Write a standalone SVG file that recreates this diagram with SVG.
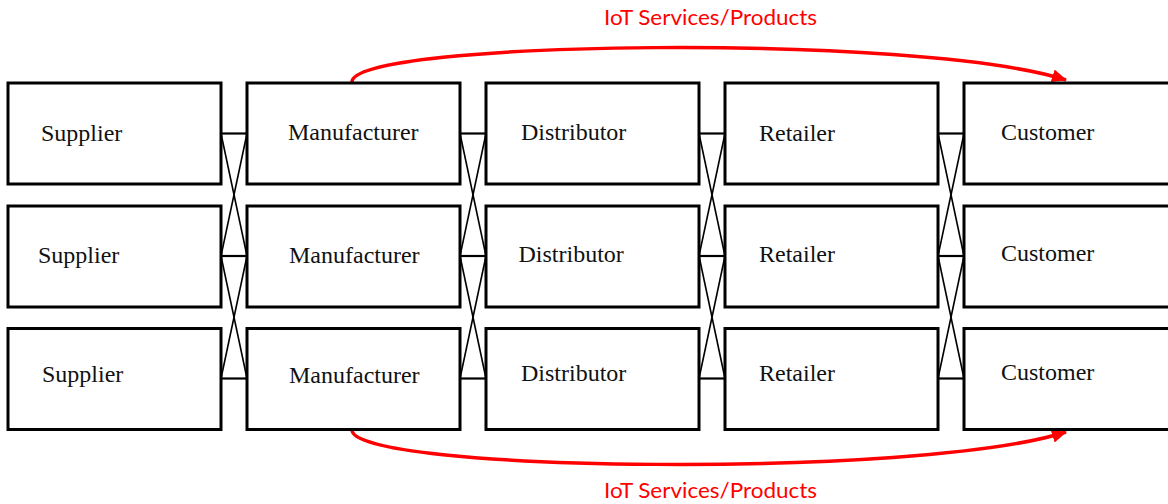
<svg xmlns="http://www.w3.org/2000/svg" width="1168" height="504" viewBox="0 0 1168 504">
  <style>
    .box { fill: #ffffff; stroke: #000000; stroke-width: 3; }
    .lbl { font-family: "Liberation Serif", "Times New Roman", serif; font-size: 24px; fill: #111111; }
    .link { stroke: #000000; stroke-width: 1.6; fill: none; }
    .hlink { stroke: #000000; stroke-width: 2.2; fill: none; }
    .flow { stroke: #ff0000; stroke-width: 3.5; fill: none; }
    .flowtxt { font-family: Lato, "Open Sans", "Liberation Sans", sans-serif; font-size: 21px; fill: #ff0000; }
  </style>
  <defs>
    <marker id="redhead" markerUnits="userSpaceOnUse" markerWidth="18" markerHeight="14" refX="14" refY="6.5" orient="auto">
      <path d="M0,0 L15,6.5 L0,13 Z" fill="#ff0000"/>
    </marker>
  </defs>
  <rect width="1168" height="504" fill="#ffffff"/>

  <!-- links between neighbouring columns -->
  <g id="connectors">
    <!-- Supplier to Manufacturer -->
    <line class="hlink" x1="221" y1="133.5" x2="247" y2="133.5"/>
    <line class="hlink" x1="221" y1="256" x2="247" y2="256"/>
    <line class="hlink" x1="221" y1="378.5" x2="247" y2="378.5"/>
    <line class="link" x1="221" y1="133.5" x2="247" y2="256"/>
    <line class="link" x1="247" y1="133.5" x2="221" y2="256"/>
    <line class="link" x1="221" y1="256" x2="247" y2="378.5"/>
    <line class="link" x1="247" y1="256" x2="221" y2="378.5"/>
    <!-- Manufacturer to Distributor -->
    <line class="hlink" x1="460" y1="133.5" x2="486" y2="133.5"/>
    <line class="hlink" x1="460" y1="256" x2="486" y2="256"/>
    <line class="hlink" x1="460" y1="378.5" x2="486" y2="378.5"/>
    <line class="link" x1="460" y1="133.5" x2="486" y2="256"/>
    <line class="link" x1="486" y1="133.5" x2="460" y2="256"/>
    <line class="link" x1="460" y1="256" x2="486" y2="378.5"/>
    <line class="link" x1="486" y1="256" x2="460" y2="378.5"/>
    <!-- Distributor to Retailer -->
    <line class="hlink" x1="699" y1="133.5" x2="725" y2="133.5"/>
    <line class="hlink" x1="699" y1="256" x2="725" y2="256"/>
    <line class="hlink" x1="699" y1="378.5" x2="725" y2="378.5"/>
    <line class="link" x1="699" y1="133.5" x2="725" y2="256"/>
    <line class="link" x1="725" y1="133.5" x2="699" y2="256"/>
    <line class="link" x1="699" y1="256" x2="725" y2="378.5"/>
    <line class="link" x1="725" y1="256" x2="699" y2="378.5"/>
    <!-- Retailer to Customer -->
    <line class="hlink" x1="938" y1="133.5" x2="964" y2="133.5"/>
    <line class="hlink" x1="938" y1="256" x2="964" y2="256"/>
    <line class="hlink" x1="938" y1="378.5" x2="964" y2="378.5"/>
    <line class="link" x1="938" y1="133.5" x2="964" y2="256"/>
    <line class="link" x1="964" y1="133.5" x2="938" y2="256"/>
    <line class="link" x1="938" y1="256" x2="964" y2="378.5"/>
    <line class="link" x1="964" y1="256" x2="938" y2="378.5"/>

    <!-- IoT flows from manufacturer straight to customer -->
    <path class="flow" d="M352,82 C352,40 920,33 1066,80" marker-end="url(#redhead)"/>
    <path class="flow" d="M352,430 C352,472 920,479 1066,432" marker-end="url(#redhead)"/>
  </g>

  <text class="flowtxt" x="604" y="25" textLength="213" lengthAdjust="spacingAndGlyphs">IoT Services/Products</text>
  <text class="flowtxt" x="604" y="498" textLength="213" lengthAdjust="spacingAndGlyphs">IoT Services/Products</text>

  <!-- Supplier column -->
  <g id="supplier-1"><rect class="box" x="8" y="83" width="213" height="101"/><text class="lbl" x="41" y="140.5">Supplier</text></g>
  <g id="supplier-2"><rect class="box" x="8" y="206" width="213" height="101"/><text class="lbl" x="38" y="262.5">Supplier</text></g>
  <g id="supplier-3"><rect class="box" x="8" y="328.5" width="213" height="101"/><text class="lbl" x="42" y="382">Supplier</text></g>

  <!-- Manufacturer column -->
  <g id="manufacturer-1"><rect class="box" x="247" y="83" width="213" height="101"/><text class="lbl" x="288" y="140">Manufacturer</text></g>
  <g id="manufacturer-2"><rect class="box" x="247" y="206" width="213" height="101"/><text class="lbl" x="289" y="262.5">Manufacturer</text></g>
  <g id="manufacturer-3"><rect class="box" x="247" y="328.5" width="213" height="101"/><text class="lbl" x="289" y="382.5">Manufacturer</text></g>

  <!-- Distributor column -->
  <g id="distributor-1"><rect class="box" x="486" y="83" width="213" height="101"/><text class="lbl" x="521" y="140">Distributor</text></g>
  <g id="distributor-2"><rect class="box" x="486" y="206" width="213" height="101"/><text class="lbl" x="518.5" y="261.5">Distributor</text></g>
  <g id="distributor-3"><rect class="box" x="486" y="328.5" width="213" height="101"/><text class="lbl" x="521" y="381">Distributor</text></g>

  <!-- Retailer column -->
  <g id="retailer-1"><rect class="box" x="725" y="83" width="213" height="101"/><text class="lbl" x="759" y="140.5">Retailer</text></g>
  <g id="retailer-2"><rect class="box" x="725" y="206" width="213" height="101"/><text class="lbl" x="759" y="261.5">Retailer</text></g>
  <g id="retailer-3"><rect class="box" x="725" y="328.5" width="213" height="101"/><text class="lbl" x="759" y="381">Retailer</text></g>

  <!-- Customer column -->
  <g id="customer-1"><rect class="box" x="964" y="83" width="213" height="101"/><text class="lbl" x="1001" y="140">Customer</text></g>
  <g id="customer-2"><rect class="box" x="964" y="206" width="213" height="101"/><text class="lbl" x="1001" y="260.5">Customer</text></g>
  <g id="customer-3"><rect class="box" x="964" y="328.5" width="213" height="101"/><text class="lbl" x="1001" y="380">Customer</text></g>
</svg>
